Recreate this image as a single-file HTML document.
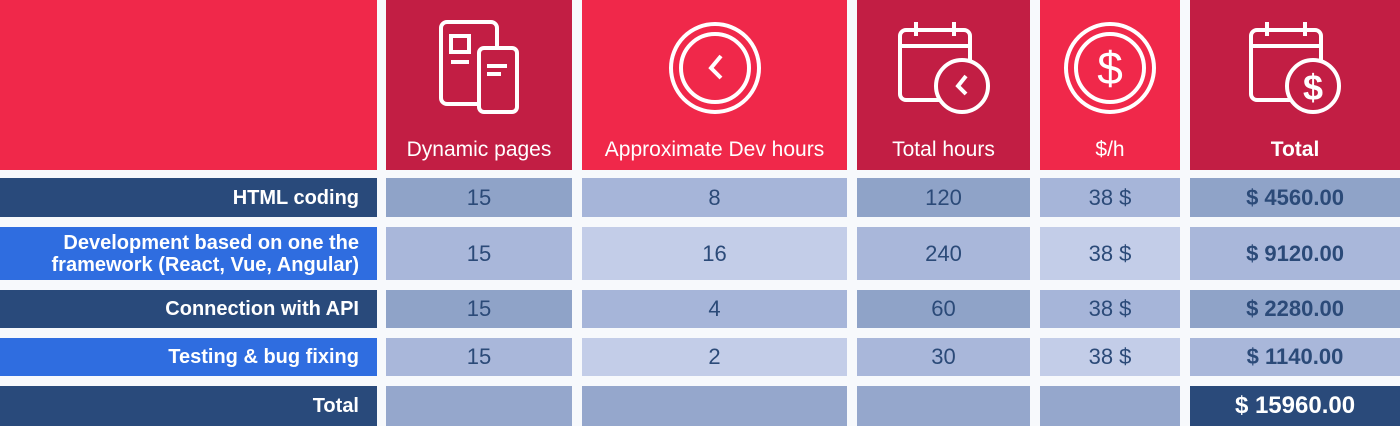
<!DOCTYPE html>
<html><head><style>
body{margin:0;width:1400px;height:426px;background:#f7f9fc;position:relative;overflow:hidden;font-family:"Liberation Sans",sans-serif}
.c{position:absolute;display:flex;align-items:center;justify-content:center;box-sizing:border-box;color:#2b4a78;font-size:22px}
.l{justify-content:flex-end;text-align:right;padding-right:18px;color:#fff;font-weight:bold;font-size:20px;line-height:22px}
.h{color:#fff;font-size:21px;align-items:flex-end;padding-bottom:8px}
.b{font-weight:bold}
svg{position:absolute;left:50%;top:18px;transform:translateX(-50%)}
</style></head><body>
<div class="c" style="left:0;top:0;width:377px;height:170px;background:#f0284a"></div>
<div class="c h" style="left:386px;top:0;width:186px;height:170px;background:#c21e44">Dynamic pages
<svg width="100" height="100" viewBox="0 0 100 100" fill="none" stroke="#fff" stroke-width="4"><rect x="12" y="4" width="56" height="82" rx="6"/><rect x="22" y="18" width="18" height="16"/><line x1="22" y1="44" x2="40" y2="44"/><rect x="50" y="30" width="38" height="64" rx="5" fill="#c21e44"/><line x1="58" y1="48" x2="78" y2="48"/><line x1="58" y1="56" x2="72" y2="56"/></svg></div>
<div class="c h" style="left:582px;top:0;width:265px;height:170px;background:#f0284a">Approximate Dev hours
<svg width="100" height="100" viewBox="0 0 100 100" fill="none" stroke="#fff" stroke-width="4"><circle cx="50" cy="50" r="44"/><circle cx="50" cy="50" r="34"/><polyline points="56,38 46,50 56,60"/></svg></div>
<div class="c h" style="left:857px;top:0;width:173px;height:170px;background:#c21e44">Total hours
<svg width="100" height="100" viewBox="0 0 100 100" fill="none" stroke="#fff" stroke-width="4"><rect x="6" y="12" width="70" height="70" rx="6"/><line x1="6" y1="28" x2="76" y2="28"/><line x1="22" y1="4" x2="22" y2="18"/><line x1="60" y1="4" x2="60" y2="18"/><circle cx="68" cy="68" r="26" fill="#c21e44"/><polyline points="72,58 64,68 72,76"/></svg></div>
<div class="c h" style="left:1040px;top:0;width:140px;height:170px;background:#f0284a">$/h
<svg width="100" height="100" viewBox="0 0 100 100" fill="none" stroke="#fff" stroke-width="4"><circle cx="50" cy="50" r="44"/><circle cx="50" cy="50" r="34"/><text x="50" y="66" font-size="46" fill="#fff" stroke="none" text-anchor="middle" font-family="Liberation Sans">$</text></svg></div>
<div class="c h b" style="left:1190px;top:0;width:210px;height:170px;background:#c21e44">Total
<svg width="100" height="100" viewBox="0 0 100 100" fill="none" stroke="#fff" stroke-width="4"><rect x="6" y="12" width="70" height="70" rx="6"/><line x1="6" y1="28" x2="76" y2="28"/><line x1="22" y1="4" x2="22" y2="18"/><line x1="60" y1="4" x2="60" y2="18"/><circle cx="68" cy="68" r="26" fill="#c21e44"/><text x="68" y="82" font-size="36" fill="#fff" stroke="none" text-anchor="middle" font-family="Liberation Sans">$</text></svg></div>

<!-- row1 -->
<div class="c l" style="left:0;top:178px;width:377px;height:39px;background:#294a7b">HTML coding</div>
<div class="c" style="left:386px;top:178px;width:186px;height:39px;background:#8fa3c8">15</div>
<div class="c" style="left:582px;top:178px;width:265px;height:39px;background:#a6b5d9">8</div>
<div class="c" style="left:857px;top:178px;width:173px;height:39px;background:#8fa3c8">120</div>
<div class="c" style="left:1040px;top:178px;width:140px;height:39px;background:#a6b5d9">38 $</div>
<div class="c b" style="left:1190px;top:178px;width:210px;height:39px;background:#8fa3c8">$ 4560.00</div>
<!-- row2 -->
<div class="c l" style="left:0;top:227px;width:377px;height:53px;background:#2f6de0">Development based on one the<br>framework (React, Vue, Angular)</div>
<div class="c" style="left:386px;top:227px;width:186px;height:53px;background:#a9b7da">15</div>
<div class="c" style="left:582px;top:227px;width:265px;height:53px;background:#c3cde8">16</div>
<div class="c" style="left:857px;top:227px;width:173px;height:53px;background:#a9b7da">240</div>
<div class="c" style="left:1040px;top:227px;width:140px;height:53px;background:#c3cde8">38 $</div>
<div class="c b" style="left:1190px;top:227px;width:210px;height:53px;background:#a9b7da">$ 9120.00</div>
<!-- row3 -->
<div class="c l" style="left:0;top:290px;width:377px;height:38px;background:#294a7b">Connection with API</div>
<div class="c" style="left:386px;top:290px;width:186px;height:38px;background:#8fa3c8">15</div>
<div class="c" style="left:582px;top:290px;width:265px;height:38px;background:#a6b5d9">4</div>
<div class="c" style="left:857px;top:290px;width:173px;height:38px;background:#8fa3c8">60</div>
<div class="c" style="left:1040px;top:290px;width:140px;height:38px;background:#a6b5d9">38 $</div>
<div class="c b" style="left:1190px;top:290px;width:210px;height:38px;background:#8fa3c8">$ 2280.00</div>
<!-- row4 -->
<div class="c l" style="left:0;top:338px;width:377px;height:38px;background:#2f6de0">Testing &amp; bug fixing</div>
<div class="c" style="left:386px;top:338px;width:186px;height:38px;background:#a9b7da">15</div>
<div class="c" style="left:582px;top:338px;width:265px;height:38px;background:#c3cde8">2</div>
<div class="c" style="left:857px;top:338px;width:173px;height:38px;background:#a9b7da">30</div>
<div class="c" style="left:1040px;top:338px;width:140px;height:38px;background:#c3cde8">38 $</div>
<div class="c b" style="left:1190px;top:338px;width:210px;height:38px;background:#a9b7da">$ 1140.00</div>
<!-- total -->
<div class="c l" style="left:0;top:386px;width:377px;height:40px;background:#294a7b">Total</div>
<div class="c" style="left:386px;top:386px;width:186px;height:40px;background:#95a7cc"></div>
<div class="c" style="left:582px;top:386px;width:265px;height:40px;background:#95a7cc"></div>
<div class="c" style="left:857px;top:386px;width:173px;height:40px;background:#95a7cc"></div>
<div class="c" style="left:1040px;top:386px;width:140px;height:40px;background:#95a7cc"></div>
<div class="c b" style="left:1190px;top:386px;width:210px;height:40px;background:#2a4a7a;color:#fff;font-size:24px">$ 15960.00</div>
</body></html>
